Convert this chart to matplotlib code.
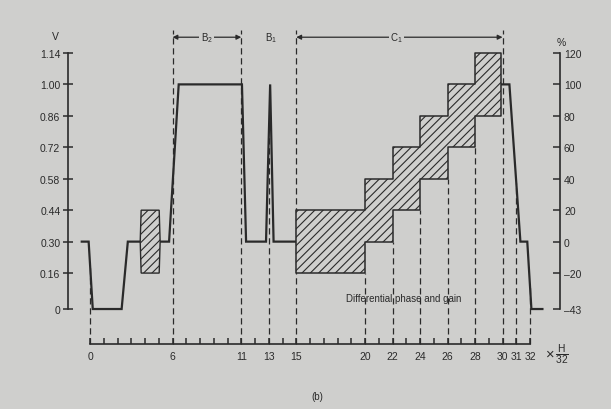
import matplotlib
matplotlib.use("Agg")
import matplotlib.pyplot as plt
import numpy as np
from matplotlib.patches import Polygon

plt.rcParams["font.family"] = ["Liberation Sans", "DejaVu Sans"]
plt.rcParams["mathtext.fontset"] = "custom"
plt.rcParams["mathtext.rm"] = "Liberation Sans"
plt.rcParams["mathtext.it"] = "Liberation Sans"
plt.rcParams["hatch.linewidth"] = 0.8

# ---- data (x in H/32 units, level in volts) ----
wave_a_x = [-0.6, -0.1, 0.2, 2.3, 2.75, 5.75, 6.45, 11.05, 11.35, 12.8, 13.1, 13.35, 15.0]
wave_a_v = [0.30, 0.30, 0.0, 0.0, 0.30, 0.30, 1.00, 1.00, 0.30, 0.30, 1.00, 0.30, 0.30]
wave_b_x = [29.9, 30.5, 31.3, 31.8, 32.1, 32.9]
wave_b_v = [1.00, 1.00, 0.30, 0.30, 0.0, 0.0]

burst_x = [3.65, 5.1]
burst_v = [0.16, 0.44]

step_edges = [15, 20, 22, 24, 26, 28, 29.9]
step_lo = [0.16, 0.30, 0.44, 0.58, 0.72, 0.86]
step_hi = [0.44, 0.58, 0.72, 0.86, 1.00, 1.14]

volt_ticks = [0, 0.16, 0.30, 0.44, 0.58, 0.72, 0.86, 1.00, 1.14]
volt_labels = ["0", "0.16", "0.30", "0.44", "0.58", "0.72", "0.86", "1.00", "1.14"]
pct_ticks = [-43, -20, 0, 20, 40, 60, 80, 100, 120]
x_labelled = [0, 6, 11, 13, 15, 20, 22, 24, 26, 28, 30, 31, 32]

full_dash = [6, 11, 15, 30]        # run up to the bracket row
wave_dash = [0, 13, 31, 32]        # start at the waveform
step_dash = [20, 22, 24, 26, 28]   # start under the hatched steps

BG = "#cfcfcd"
INK = "#2a2a2a"
AXIS_Y = -0.156
TOP_Y = 1.24
BRACKET_Y = 1.21
HATCH = "////"

fig = plt.figure(figsize=(6.11, 4.10), dpi=100, facecolor=BG)
ax = fig.add_axes([0.0798, 0.0795, 0.8777, 0.8766], facecolor=BG)
ax.set_xlim(-3, 36)
ax.set_ylim(-0.3, 1.3)

# dashed guides
dash_kw = dict(color=INK, lw=0.9, ls=(0, (5, 3)), zorder=1)
all_x = wave_a_x + wave_b_x
all_v = wave_a_v + wave_b_v
for xd in full_dash:
    ax.plot([xd, xd], [AXIS_Y, TOP_Y], **dash_kw)
for xd in wave_dash:
    ax.plot([xd, xd], [AXIS_Y, np.interp(xd, all_x, all_v)], **dash_kw)
for xd in step_dash:
    i = step_edges.index(xd)
    ax.plot([xd, xd], [AXIS_Y, step_lo[i - 1]], **dash_kw)

# waveform
ax.plot(wave_a_x, wave_a_v, color=INK, lw=1.6, zorder=3, solid_joinstyle="miter")
ax.plot(wave_b_x, wave_b_v, color=INK, lw=1.6, zorder=3, solid_joinstyle="miter")

# colour burst
b = 0.07
bx0, bx1 = burst_x
bv0, bv1 = burst_v
bmid = (bv0 + bv1) / 2
burst = Polygon([(bx0 + b, bv1), (bx1 - b, bv1), (bx1, bmid), (bx1 - b, bv0),
                 (bx0 + b, bv0), (bx0, bmid)], closed=True, facecolor=BG,
                edgecolor=INK, lw=1.0, hatch=HATCH, zorder=4)
ax.add_patch(burst)

# staircase with subcarrier
ax.fill_between(step_edges, step_lo + [step_lo[-1]], step_hi + [step_hi[-1]],
                step="post", facecolor=BG, edgecolor=INK, lw=1.1, hatch=HATCH, zorder=4)

# brackets
arrow_kw = dict(arrowstyle="<|-|>", color=INK, lw=0.9, mutation_scale=7, shrinkA=0, shrinkB=0)
ax.annotate("", xy=(6, BRACKET_Y), xytext=(11, BRACKET_Y), arrowprops=arrow_kw, zorder=2)
ax.annotate("", xy=(15, BRACKET_Y), xytext=(30, BRACKET_Y), arrowprops=arrow_kw, zorder=2)
lab_kw = dict(ha="center", va="center", fontsize=7, color=INK,
              bbox=dict(facecolor=BG, edgecolor="none", pad=1.0), zorder=5)
ax.text(8.5, BRACKET_Y, "B$_2$", **lab_kw)
ax.text(13.2, BRACKET_Y, "B$_1$", **lab_kw)
ax.text(22.3, BRACKET_Y, "C$_1$", **lab_kw)

ax.text(22.8, 0.05, "Differential phase and gain", ha="center", va="center",
        fontsize=7, color=INK, zorder=6)

# axes
for s in ["top", "right"]:
    ax.spines[s].set_visible(False)
ax.spines["left"].set_position(("data", -1.6))
ax.spines["left"].set_bounds(0, 1.14)
ax.spines["bottom"].set_position(("data", AXIS_Y))
ax.spines["bottom"].set_bounds(0, 32)
for s in ["left", "bottom"]:
    ax.spines[s].set_color(INK)
    ax.spines[s].set_linewidth(1.2)

ax.set_yticks(volt_ticks)
ax.set_yticklabels(volt_labels)
ax.tick_params(axis="y", direction="inout", length=7, width=1.1, colors=INK,
               labelsize=7.5, pad=2)
ax.set_xticks(x_labelled)
ax.set_xticks(range(0, 33), minor=True)
ax.tick_params(axis="x", which="both", direction="in", length=4, width=1.1,
               colors=INK, labelsize=7.5, pad=5)

sec = ax.secondary_yaxis(0.953, functions=(lambda v: (v - 0.3) / 0.7 * 100,
                                            lambda p: 0.3 + 0.7 * p / 100))
sec.set_yticks(pct_ticks)
sec.set_yticklabels([str(p).replace("-", "\u2013") for p in pct_ticks])
sec.spines["right"].set_bounds(-43, 120)
sec.spines["right"].set_color(INK)
sec.spines["right"].set_linewidth(1.2)
sec.tick_params(direction="in", length=5, width=1.1, colors=INK, labelsize=7.5, pad=3)

ax.text(-2.55, 1.215, "V", ha="center", va="center", fontsize=7.5, color=INK)
ax.text(34.3, 1.19, "%", ha="center", va="center", fontsize=7.5, color=INK)
ax.text(33.1, -0.2, r"$\times\,\frac{\mathrm{H}}{\mathrm{32}}$", ha="left", va="center",
        fontsize=10.5, color=INK)
fig.text(0.519, 0.032, "(b)", ha="center", va="center", fontsize=7, color=INK)

fig.savefig("out.png", dpi=100, facecolor=BG)
